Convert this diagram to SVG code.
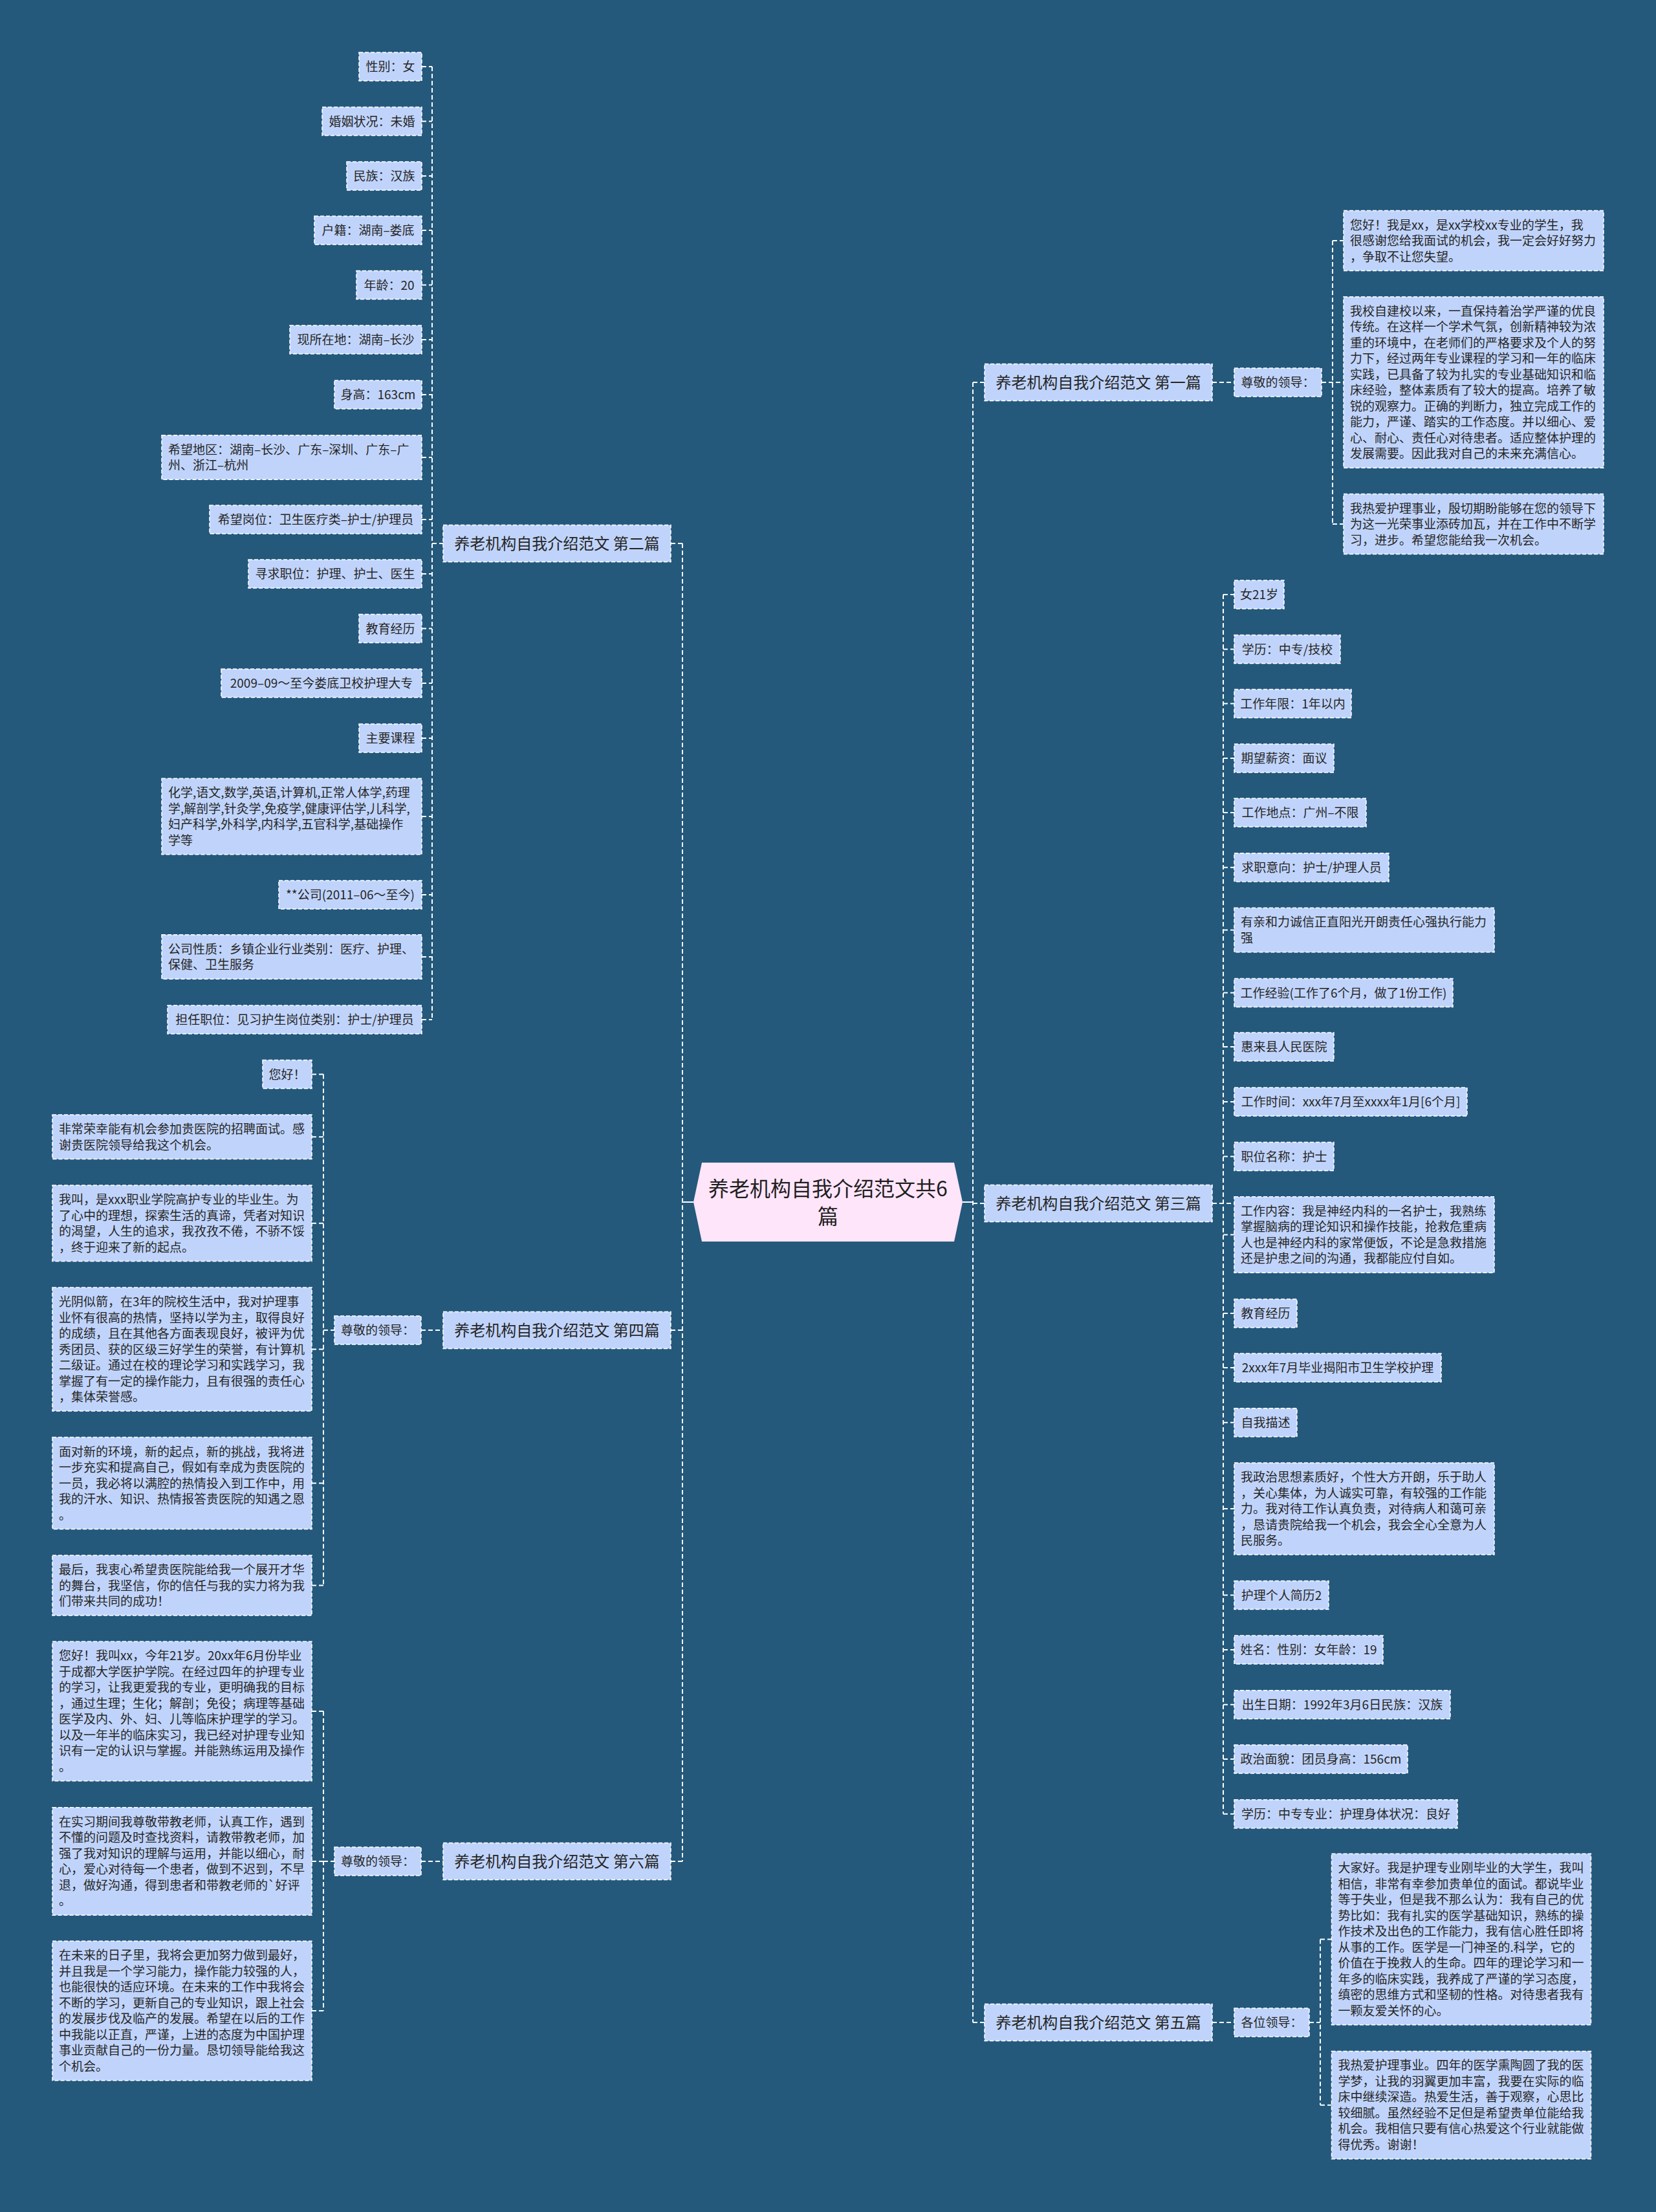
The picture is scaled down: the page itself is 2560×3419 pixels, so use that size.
<svg xmlns="http://www.w3.org/2000/svg" width="2560" height="3419" viewBox="0 0 2560 3419">
<style>
.bx{fill:#c0d4fb;stroke:#ffffff;stroke-width:1.5;stroke-dasharray:6 3}
.t{font-family:"Noto Sans CJK SC","Noto Sans",sans-serif;font-size:19px;fill:#262626}
.c{text-anchor:middle}
.m{font-family:"Noto Sans CJK SC","Noto Sans",sans-serif;font-size:24px;fill:#262626;text-anchor:middle}
.ln{fill:none;stroke:#ffffff;stroke-width:2;stroke-dasharray:7 4}
.sl{fill:none;stroke:#ffffff;stroke-width:2}
</style>
<rect x="0" y="0" width="2560" height="3419" fill="#24597b"/>

<g id="connectors">
<path class="sl" d="M1055,1858 H1072 M1488,1858 H1504"/>
<path class="ln" d="M1055,840 V2877 M1037,840 H1055 M1037,2056 H1055 M1037,2877 H1055"/>
<path class="ln" d="M1504,591 V3126 M1504,591 H1522 M1504,1860 H1522 M1504,3126 H1522"/>
<path class="ln" d="M668,103 V1576 M668,840 H685 M652,103 H668 M652,187.5 H668 M652,272 H668 M652,356 H668 M652,440.5 H668 M652,525 H668 M652,610 H668 M652,707 H668 M652,803 H668 M652,887 H668 M652,971.5 H668 M652,1056 H668 M652,1141 H668 M652,1262 H668 M652,1383 H668 M652,1479 H668 M652,1576 H668"/>
<path class="ln" d="M651,2056 H685 M500,1660.5 V2450.5 M500,2056 H517 M482,1660.5 H500 M482,1757.25 H500 M482,1890.75 H500 M482,2085.5 H500 M482,2292.5 H500 M482,2450.5 H500"/>
<path class="ln" d="M651,2877 H685 M500,2645 V3108 M500,2877 H517 M482,2645 H500 M482,2877 H500 M482,3108 H500"/>
<path class="ln" d="M1874,591 H1908 M2060,372 V810 M2043,591 H2077 M2060,372 H2077 M2060,810 H2077"/>
<path class="ln" d="M1874,1860 H1908 M1891,919 V2803.7 M1891,919 H1908 M1891,1003.5 H1908 M1891,1087.6 H1908 M1891,1172 H1908 M1891,1256 H1908 M1891,1340.7 H1908 M1891,1437.6 H1908 M1891,1534.6 H1908 M1891,1618 H1908 M1891,1703 H1908 M1891,1787.6 H1908 M1891,1908.6 H1908 M1891,2030 H1908 M1891,2114 H1908 M1891,2198.7 H1908 M1891,2332 H1908 M1891,2465.5 H1908 M1891,2550 H1908 M1891,2634.7 H1908 M1891,2719 H1908 M1891,2803.7 H1908"/>
<path class="ln" d="M1874,3126 H1908 M2041,2997.5 V3253.7 M2024,3126 H2041 M2041,2997.5 H2058.5 M2041,3253.7 H2058.5"/>
</g>

<g id="root">
<polygon points="1072,1858 1085,1797 1475,1797 1488,1858 1475,1919 1085,1919" fill="#ffe5fa"/>
<text x="1280" y="1849" font-family="Noto Sans CJK SC, Noto Sans, sans-serif" font-size="32" fill="#1f1f1f" text-anchor="middle">养老机构自我介绍范文共6</text>
<text x="1280" y="1892" font-family="Noto Sans CJK SC, Noto Sans, sans-serif" font-size="32" fill="#1f1f1f" text-anchor="middle">篇</text>
</g>

<!-- 第二篇 -->
<g id="b2"><rect class="bx" x="685" y="811.5" width="352" height="57"/><text class="m" x="861" y="848.5">养老机构自我介绍范文 第二篇</text></g>
<g id="b2-1"><rect class="bx" x="555" y="81" width="97" height="44"/><text class="t c" x="603.5" y="110">性别：女</text></g>
<g id="b2-2"><rect class="bx" x="498" y="165.5" width="154" height="44"/><text class="t c" x="575" y="194.5">婚姻状况：未婚</text></g>
<g id="b2-3"><rect class="bx" x="536" y="250" width="116" height="44"/><text class="t c" x="594" y="279">民族：汉族</text></g>
<g id="b2-4"><rect class="bx" x="486" y="334" width="166" height="44"/><text class="t c" x="569" y="363">户籍：湖南–娄底</text></g>
<g id="b2-5"><rect class="bx" x="551" y="418.5" width="101" height="44"/><text class="t c" x="601.5" y="447.5">年龄：20</text></g>
<g id="b2-6"><rect class="bx" x="448" y="503" width="204" height="44"/><text class="t c" x="550" y="532">现所在地：湖南–长沙</text></g>
<g id="b2-7"><rect class="bx" x="517" y="588" width="135" height="44"/><text class="t c" x="584.5" y="617">身高：163cm</text></g>
<g id="b2-8"><rect class="bx" x="250" y="672.75" width="402" height="68.5"/><text class="t" x="260" y="701.75">希望地区：湖南–长沙、广东–深圳、广东–广<tspan x="260" dy="24.5">州、浙江–杭州</tspan></text></g>
<g id="b2-9"><rect class="bx" x="324" y="781" width="328" height="44"/><text class="t c" x="488" y="810">希望岗位：卫生医疗类–护士/护理员</text></g>
<g id="b2-10"><rect class="bx" x="384" y="865" width="268" height="44"/><text class="t c" x="518" y="894">寻求职位：护理、护士、医生</text></g>
<g id="b2-11"><rect class="bx" x="555" y="949.5" width="97" height="44"/><text class="t c" x="603.5" y="978.5">教育经历</text></g>
<g id="b2-12"><rect class="bx" x="342" y="1034" width="310" height="44"/><text class="t c" x="497" y="1063">2009–09～至今娄底卫校护理大专</text></g>
<g id="b2-13"><rect class="bx" x="555" y="1119" width="97" height="44"/><text class="t c" x="603.5" y="1148">主要课程</text></g>
<g id="b2-14"><rect class="bx" x="250" y="1203.25" width="402" height="117.5"/><text class="t" x="260" y="1232.25">化学,语文,数学,英语,计算机,正常人体学,药理<tspan x="260" dy="24.5">学,解剖学,针灸学,免疫学,健康评估学,儿科学,</tspan><tspan x="260" dy="24.5">妇产科学,外科学,内科学,五官科学,基础操作</tspan><tspan x="260" dy="24.5">学等</tspan></text></g>
<g id="b2-15"><rect class="bx" x="431" y="1361" width="221" height="44"/><text class="t c" x="541.5" y="1390">**公司(2011–06～至今)</text></g>
<g id="b2-16"><rect class="bx" x="250" y="1444.75" width="402" height="68.5"/><text class="t" x="260" y="1473.75">公司性质：乡镇企业行业类别：医疗、护理、<tspan x="260" dy="24.5">保健、卫生服务</tspan></text></g>
<g id="b2-17"><rect class="bx" x="259" y="1554" width="393" height="44"/><text class="t c" x="455.5" y="1583">担任职位：见习护生岗位类别：护士/护理员</text></g>

<!-- 第四篇 -->
<g id="b4"><rect class="bx" x="685" y="2027.5" width="352" height="57"/><text class="m" x="861" y="2064.5">养老机构自我介绍范文 第四篇</text></g>
<g id="b4-s"><rect class="bx" x="517" y="2034" width="134" height="44"/><text class="t c" x="584" y="2063">尊敬的领导：</text></g>
<g id="b4-1"><rect class="bx" x="406" y="1638.5" width="76" height="44"/><text class="t c" x="444" y="1667.5">您好！</text></g>
<g id="b4-2"><rect class="bx" x="81" y="1723" width="401" height="68.5"/><text class="t" x="91" y="1752">非常荣幸能有机会参加贵医院的招聘面试。感<tspan x="91" dy="24.5">谢贵医院领导给我这个机会。</tspan></text></g>
<g id="b4-3"><rect class="bx" x="81" y="1832" width="401" height="117.5"/><text class="t" x="91" y="1861">我叫，是xxx职业学院高护专业的毕业生。为<tspan x="91" dy="24.5">了心中的理想，探索生活的真谛，凭者对知识</tspan><tspan x="91" dy="24.5">的渴望，人生的追求，我孜孜不倦，不骄不馁</tspan><tspan x="91" dy="24.5">，终于迎来了新的起点。</tspan></text></g>
<g id="b4-4"><rect class="bx" x="81" y="1990" width="401" height="191"/><text class="t" x="91" y="2019">光阴似箭，在3年的院校生活中，我对护理事<tspan x="91" dy="24.5">业怀有很高的热情，坚持以学为主，取得良好</tspan><tspan x="91" dy="24.5">的成绩，且在其他各方面表现良好，被评为优</tspan><tspan x="91" dy="24.5">秀团员、获的区级三好学生的荣誉，有计算机</tspan><tspan x="91" dy="24.5">二级证。通过在校的理论学习和实践学习，我</tspan><tspan x="91" dy="24.5">掌握了有一定的操作能力，且有很强的责任心</tspan><tspan x="91" dy="24.5">，集体荣誉感。</tspan></text></g>
<g id="b4-5"><rect class="bx" x="81" y="2221.5" width="401" height="142"/><text class="t" x="91" y="2250.5">面对新的环境，新的起点，新的挑战，我将进<tspan x="91" dy="24.5">一步充实和提高自己，假如有幸成为贵医院的</tspan><tspan x="91" dy="24.5">一员，我必将以满腔的热情投入到工作中，用</tspan><tspan x="91" dy="24.5">我的汗水、知识、热情报答贵医院的知遇之恩</tspan><tspan x="91" dy="24.5">。</tspan></text></g>
<g id="b4-6"><rect class="bx" x="81" y="2404" width="401" height="93"/><text class="t" x="91" y="2433">最后，我衷心希望贵医院能给我一个展开才华<tspan x="91" dy="24.5">的舞台，我坚信，你的信任与我的实力将为我</tspan><tspan x="91" dy="24.5">们带来共同的成功！</tspan></text></g>

<!-- 第六篇 -->
<g id="b6"><rect class="bx" x="685" y="2848.5" width="352" height="57"/><text class="m" x="861" y="2885.5">养老机构自我介绍范文 第六篇</text></g>
<g id="b6-s"><rect class="bx" x="517" y="2855" width="134" height="44"/><text class="t c" x="584" y="2884">尊敬的领导：</text></g>
<g id="b6-1"><rect class="bx" x="81" y="2537.25" width="401" height="215.5"/><text class="t" x="91" y="2566.25">您好！我叫xx，今年21岁。20xx年6月份毕业<tspan x="91" dy="24.5">于成都大学医护学院。在经过四年的护理专业</tspan><tspan x="91" dy="24.5">的学习，让我更爱我的专业，更明确我的目标</tspan><tspan x="91" dy="24.5">，通过生理；生化；解剖；免役；病理等基础</tspan><tspan x="91" dy="24.5">医学及内、外、妇、儿等临床护理学的学习。</tspan><tspan x="91" dy="24.5">以及一年半的临床实习，我已经对护理专业知</tspan><tspan x="91" dy="24.5">识有一定的认识与掌握。并能熟练运用及操作</tspan><tspan x="91" dy="24.5">。</tspan></text></g>
<g id="b6-2"><rect class="bx" x="81" y="2793.75" width="401" height="166.5"/><text class="t" x="91" y="2822.75">在实习期间我尊敬带教老师，认真工作，遇到<tspan x="91" dy="24.5">不懂的问题及时查找资料，请教带教老师，加</tspan><tspan x="91" dy="24.5">强了我对知识的理解与运用，并能以细心，耐</tspan><tspan x="91" dy="24.5">心，爱心对待每一个患者，做到不迟到，不早</tspan><tspan x="91" dy="24.5">退，做好沟通，得到患者和带教老师的`好评</tspan><tspan x="91" dy="24.5">。</tspan></text></g>
<g id="b6-3"><rect class="bx" x="81" y="3000.25" width="401" height="215.5"/><text class="t" x="91" y="3029.25">在未来的日子里，我将会更加努力做到最好，<tspan x="91" dy="24.5">并且我是一个学习能力，操作能力较强的人，</tspan><tspan x="91" dy="24.5">也能很快的适应环境。在未来的工作中我将会</tspan><tspan x="91" dy="24.5">不断的学习，更新自己的专业知识，跟上社会</tspan><tspan x="91" dy="24.5">的发展步伐及临产的发展。希望在以后的工作</tspan><tspan x="91" dy="24.5">中我能以正直，严谨，上进的态度为中国护理</tspan><tspan x="91" dy="24.5">事业贡献自己的一份力量。恳切领导能给我这</tspan><tspan x="91" dy="24.5">个机会。</tspan></text></g>

<!-- 第一篇 -->
<g id="b1"><rect class="bx" x="1522" y="562.5" width="352" height="57"/><text class="m" x="1698" y="599.5">养老机构自我介绍范文 第一篇</text></g>
<g id="b1-s"><rect class="bx" x="1908" y="569" width="135" height="44"/><text class="t c" x="1975.5" y="598">尊敬的领导：</text></g>
<g id="b1-1"><rect class="bx" x="2077" y="325.5" width="402" height="93"/><text class="t" x="2087" y="354.5">您好！我是xx，是xx学校xx专业的学生，我<tspan x="2087" dy="24.5">很感谢您给我面试的机会，我一定会好好努力</tspan><tspan x="2087" dy="24.5">，争取不让您失望。</tspan></text></g>
<g id="b1-2"><rect class="bx" x="2077" y="458.75" width="402" height="264.5"/><text class="t" x="2087" y="487.75">我校自建校以来，一直保持着治学严谨的优良<tspan x="2087" dy="24.5">传统。在这样一个学术气氛，创新精神较为浓</tspan><tspan x="2087" dy="24.5">重的环境中，在老师们的严格要求及个人的努</tspan><tspan x="2087" dy="24.5">力下，经过两年专业课程的学习和一年的临床</tspan><tspan x="2087" dy="24.5">实践，已具备了较为扎实的专业基础知识和临</tspan><tspan x="2087" dy="24.5">床经验，整体素质有了较大的提高。培养了敏</tspan><tspan x="2087" dy="24.5">锐的观察力。正确的判断力，独立完成工作的</tspan><tspan x="2087" dy="24.5">能力，严谨、踏实的工作态度。并以细心、爱</tspan><tspan x="2087" dy="24.5">心、耐心、责任心对待患者。适应整体护理的</tspan><tspan x="2087" dy="24.5">发展需要。因此我对自己的未来充满信心。</tspan></text></g>
<g id="b1-3"><rect class="bx" x="2077" y="763.5" width="402" height="93"/><text class="t" x="2087" y="792.5">我热爱护理事业，殷切期盼能够在您的领导下<tspan x="2087" dy="24.5">为这一光荣事业添砖加瓦，并在工作中不断学</tspan><tspan x="2087" dy="24.5">习，进步。希望您能给我一次机会。</tspan></text></g>

<!-- 第三篇 -->
<g id="b3"><rect class="bx" x="1522" y="1831.5" width="352" height="57"/><text class="m" x="1698" y="1868.5">养老机构自我介绍范文 第三篇</text></g>
<g id="b3-1"><rect class="bx" x="1908" y="897" width="77" height="44"/><text class="t c" x="1946.5" y="926">女21岁</text></g>
<g id="b3-2"><rect class="bx" x="1908" y="981.5" width="164" height="44"/><text class="t c" x="1990" y="1010.5">学历：中专/技校</text></g>
<g id="b3-3"><rect class="bx" x="1908" y="1065.6" width="181" height="44"/><text class="t c" x="1998.5" y="1094.6">工作年限：1年以内</text></g>
<g id="b3-4"><rect class="bx" x="1908" y="1150" width="154" height="44"/><text class="t c" x="1985" y="1179">期望薪资：面议</text></g>
<g id="b3-5"><rect class="bx" x="1908" y="1234" width="204" height="44"/><text class="t c" x="2010" y="1263">工作地点：广州–不限</text></g>
<g id="b3-6"><rect class="bx" x="1908" y="1318.7" width="239" height="44"/><text class="t c" x="2027.5" y="1347.7">求职意向：护士/护理人员</text></g>
<g id="b3-7"><rect class="bx" x="1908" y="1403.35" width="402" height="68.5"/><text class="t" x="1918" y="1432.35">有亲和力诚信正直阳光开朗责任心强执行能力<tspan x="1918" dy="24.5">强</tspan></text></g>
<g id="b3-8"><rect class="bx" x="1908" y="1512.6" width="338" height="44"/><text class="t c" x="2077" y="1541.6">工作经验(工作了6个月，做了1份工作)</text></g>
<g id="b3-9"><rect class="bx" x="1908" y="1596" width="154" height="44"/><text class="t c" x="1985" y="1625">惠来县人民医院</text></g>
<g id="b3-10"><rect class="bx" x="1908" y="1681" width="360" height="44"/><text class="t c" x="2088" y="1710">工作时间：xxx年7月至xxxx年1月[6个月]</text></g>
<g id="b3-11"><rect class="bx" x="1908" y="1765.6" width="154" height="44"/><text class="t c" x="1985" y="1794.6">职位名称：护士</text></g>
<g id="b3-12"><rect class="bx" x="1908" y="1849.85" width="402" height="117.5"/><text class="t" x="1918" y="1878.85">工作内容：我是神经内科的一名护士，我熟练<tspan x="1918" dy="24.5">掌握脑病的理论知识和操作技能，抢救危重病</tspan><tspan x="1918" dy="24.5">人也是神经内科的家常便饭，不论是急救措施</tspan><tspan x="1918" dy="24.5">还是护患之间的沟通，我都能应付自如。</tspan></text></g>
<g id="b3-13"><rect class="bx" x="1908" y="2008" width="97" height="44"/><text class="t c" x="1956.5" y="2037">教育经历</text></g>
<g id="b3-14"><rect class="bx" x="1908" y="2092" width="320" height="44"/><text class="t c" x="2068" y="2121">2xxx年7月毕业揭阳市卫生学校护理</text></g>
<g id="b3-15"><rect class="bx" x="1908" y="2176.7" width="97" height="44"/><text class="t c" x="1956.5" y="2205.7">自我描述</text></g>
<g id="b3-16"><rect class="bx" x="1908" y="2261" width="402" height="142"/><text class="t" x="1918" y="2290">我政治思想素质好，个性大方开朗，乐于助人<tspan x="1918" dy="24.5">，关心集体，为人诚实可靠，有较强的工作能</tspan><tspan x="1918" dy="24.5">力。我对待工作认真负责，对待病人和蔼可亲</tspan><tspan x="1918" dy="24.5">，恳请贵院给我一个机会，我会全心全意为人</tspan><tspan x="1918" dy="24.5">民服务。</tspan></text></g>
<g id="b3-17"><rect class="bx" x="1908" y="2443.5" width="146" height="44"/><text class="t c" x="1981" y="2472.5">护理个人简历2</text></g>
<g id="b3-18"><rect class="bx" x="1908" y="2528" width="230" height="44"/><text class="t c" x="2023" y="2557">姓名：性别：女年龄：19</text></g>
<g id="b3-19"><rect class="bx" x="1908" y="2612.7" width="334" height="44"/><text class="t c" x="2075" y="2641.7">出生日期：1992年3月6日民族：汉族</text></g>
<g id="b3-20"><rect class="bx" x="1908" y="2697" width="268" height="44"/><text class="t c" x="2042" y="2726">政治面貌：团员身高：156cm</text></g>
<g id="b3-21"><rect class="bx" x="1908" y="2781.7" width="345" height="44"/><text class="t c" x="2080.5" y="2810.7">学历：中专专业：护理身体状况：良好</text></g>

<!-- 第五篇 -->
<g id="b5"><rect class="bx" x="1522" y="3097.5" width="352" height="57"/><text class="m" x="1698" y="3134.5">养老机构自我介绍范文 第五篇</text></g>
<g id="b5-s"><rect class="bx" x="1908" y="3104" width="116" height="44"/><text class="t c" x="1966" y="3133">各位领导：</text></g>
<g id="b5-1"><rect class="bx" x="2058.5" y="2865.25" width="401" height="264.5"/><text class="t" x="2068.5" y="2894.25">大家好。我是护理专业刚毕业的大学生，我叫<tspan x="2068.5" dy="24.5">相信，非常有幸参加贵单位的面试。都说毕业</tspan><tspan x="2068.5" dy="24.5">等于失业，但是我不那么认为：我有自己的优</tspan><tspan x="2068.5" dy="24.5">势比如：我有扎实的医学基础知识，熟练的操</tspan><tspan x="2068.5" dy="24.5">作技术及出色的工作能力，我有信心胜任即将</tspan><tspan x="2068.5" dy="24.5">从事的工作。医学是一门神圣的.科学，它的</tspan><tspan x="2068.5" dy="24.5">价值在于挽救人的生命。四年的理论学习和一</tspan><tspan x="2068.5" dy="24.5">年多的临床实践，我养成了严谨的学习态度，</tspan><tspan x="2068.5" dy="24.5">缜密的思维方式和坚韧的性格。对待患者我有</tspan><tspan x="2068.5" dy="24.5">一颗友爱关怀的心。</tspan></text></g>
<g id="b5-2"><rect class="bx" x="2058.5" y="3170.45" width="401" height="166.5"/><text class="t" x="2068.5" y="3199.45">我热爱护理事业。四年的医学熏陶圆了我的医<tspan x="2068.5" dy="24.5">学梦，让我的羽翼更加丰富，我要在实际的临</tspan><tspan x="2068.5" dy="24.5">床中继续深造。热爱生活，善于观察，心思比</tspan><tspan x="2068.5" dy="24.5">较细腻。虽然经验不足但是希望贵单位能给我</tspan><tspan x="2068.5" dy="24.5">机会。我相信只要有信心热爱这个行业就能做</tspan><tspan x="2068.5" dy="24.5">得优秀。谢谢！</tspan></text></g>
</svg>
